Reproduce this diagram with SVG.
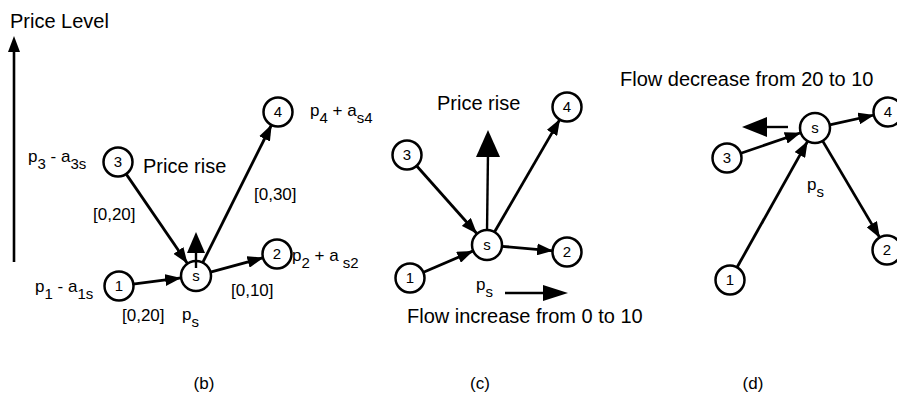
<svg xmlns="http://www.w3.org/2000/svg" width="897" height="404" viewBox="0 0 897 404">
<defs>
<marker id="ah" markerUnits="userSpaceOnUse" markerWidth="16" markerHeight="12" refX="16" refY="6" orient="auto"><path d="M0,0 L16,6 L0,12 z" fill="#000"/></marker>
</defs>
<style>
text{font-family:"Liberation Sans",Arial,sans-serif;fill:#000}
.n circle{fill:#fff;stroke:#000;stroke-width:2.5}
.n text{font-size:15px;text-anchor:middle}
.e line{stroke:#000;stroke-width:2.8;marker-end:url(#ah)}
.big{font-size:20px}
.lbl{font-size:17px}
.sub{font-size:15px}
.cap{font-size:17px;text-anchor:middle}
</style>
<rect width="897" height="404" fill="#fff"/>

<!-- Panel (b) -->
<text class="big" x="10" y="28">Price Level</text>
<line x1="14" y1="262" x2="14" y2="50" stroke="#000" stroke-width="2.6"/>
<path d="M8,52 L14,36 L20,52 z" fill="#000"/>

<g class="e" id="edges-b">
<line x1="132.9" y1="284.2" x2="181.1" y2="277.9"/>
<line x1="210.5" y1="272.1" x2="263.5" y2="257.7"/>
<line x1="125.9" y1="173.6" x2="187.5" y2="263.6"/>
<line x1="202.7" y1="262.6" x2="271.7" y2="124.5"/>
</g>
<g id="b-s" class="n"><circle cx="196" cy="276" r="15"/><text x="196" y="281">s</text></g>
<g id="b-1" class="n"><circle cx="119" cy="286" r="14.5"/><text x="119" y="291">1</text></g>
<g id="b-2" class="n"><circle cx="277" cy="254" r="14.5"/><text x="277" y="259">2</text></g>
<g id="b-3" class="n"><circle cx="118" cy="162" r="14.5"/><text x="118" y="167">3</text></g>
<g id="b-4" class="n"><circle cx="278" cy="112" r="14.5"/><text x="278" y="117">4</text></g>
<g id="b-rise"><line x1="196" y1="268" x2="196" y2="250" stroke="#000" stroke-width="2.4"/><path d="M187,253 L196,232 L205,253 z" fill="#000"/></g>

<text class="big" x="143" y="173">Price rise</text>
<text class="lbl" x="28" y="162">p<tspan class="sub" dy="7">3</tspan><tspan dy="-7"> - a</tspan><tspan class="sub" dy="7">3s</tspan></text>
<text class="lbl" x="310" y="116">p<tspan class="sub" dy="7">4</tspan><tspan dy="-7"> + a</tspan><tspan class="sub" dy="7">s4</tspan></text>
<text class="lbl" x="292" y="261">p<tspan class="sub" dy="7">2</tspan><tspan dy="-7"> + a</tspan><tspan class="sub" dy="7"> s2</tspan></text>
<text class="lbl" x="35" y="292">p<tspan class="sub" dy="7">1</tspan><tspan dy="-7"> - a</tspan><tspan class="sub" dy="7">1s</tspan></text>
<text class="lbl" x="93" y="220">[0,20]</text>
<text class="lbl" x="254" y="200">[0,30]</text>
<text class="lbl" x="231" y="296">[0,10]</text>
<text class="lbl" x="122" y="321">[0,20]</text>
<text class="lbl" x="182" y="320">p<tspan class="sub" dy="7">s</tspan></text>
<text class="cap" x="204" y="389">(b)</text>

<!-- Panel (c) -->
<g class="e" id="edges-c">
<line x1="422.9" y1="272.5" x2="473.2" y2="250.9"/>
<line x1="501.9" y1="246.3" x2="553.1" y2="250.8"/>
<line x1="416.3" y1="165.5" x2="477" y2="233.8"/>
<line x1="494.5" y1="232" x2="560" y2="119.1"/>
</g>
<g id="c-rise"><line x1="487" y1="232" x2="488" y2="152" stroke="#000" stroke-width="2.4"/><path d="M476,157 L488,130 L500,157 z" fill="#000"/></g>
<g id="c-s" class="n"><circle cx="487" cy="245" r="15"/><text x="487" y="250">s</text></g>
<g id="c-1" class="n"><circle cx="410" cy="278" r="14.5"/><text x="410" y="283">1</text></g>
<g id="c-2" class="n"><circle cx="567" cy="252" r="14.5"/><text x="567" y="257">2</text></g>
<g id="c-3" class="n"><circle cx="407" cy="155" r="14.5"/><text x="407" y="160">3</text></g>
<g id="c-4" class="n"><circle cx="567" cy="107" r="14.5"/><text x="567" y="112">4</text></g>
<text class="big" x="437" y="110">Price rise</text>
<text class="lbl" x="476" y="290">p<tspan class="sub" dy="7">s</tspan></text>
<g id="c-flow"><line x1="505" y1="293" x2="545" y2="293" stroke="#000" stroke-width="2.4"/><path d="M543,285 L568,293 L543,301 z" fill="#000"/></g>
<text class="big" x="407" y="323">Flow increase from 0 to 10</text>
<text class="cap" x="480" y="389">(c)</text>

<!-- Panel (d) -->
<g class="e" id="edges-d">
<line x1="736.8" y1="267.8" x2="807.7" y2="141.1"/>
<line x1="740.2" y1="153.5" x2="800.8" y2="132.8"/>
<line x1="829.7" y1="124.8" x2="874.3" y2="115"/>
<line x1="822.6" y1="140.9" x2="879.9" y2="237.9"/>
</g>
<g id="d-s" class="n"><circle cx="815" cy="128" r="15"/><text x="815" y="133">s</text></g>
<g id="d-1" class="n"><circle cx="730" cy="280" r="14.5"/><text x="730" y="285">1</text></g>
<g id="d-2" class="n"><circle cx="887" cy="250" r="14.5"/><text x="887" y="255">2</text></g>
<g id="d-3" class="n"><circle cx="727" cy="158" r="14.5"/><text x="727" y="163">3</text></g>
<g id="d-4" class="n"><circle cx="888" cy="112" r="14.5"/><text x="888" y="117">4</text></g>
<g id="d-flow"><line x1="788" y1="127" x2="764" y2="127" stroke="#000" stroke-width="2.4"/><path d="M767,117 L742,127 L767,137 z" fill="#000"/></g>
<text class="big" x="620" y="86">Flow decrease from 20 to 10</text>
<text class="lbl" x="807" y="190">p<tspan class="sub" dy="7">s</tspan></text>
<text class="cap" x="753" y="389">(d)</text>
</svg>
